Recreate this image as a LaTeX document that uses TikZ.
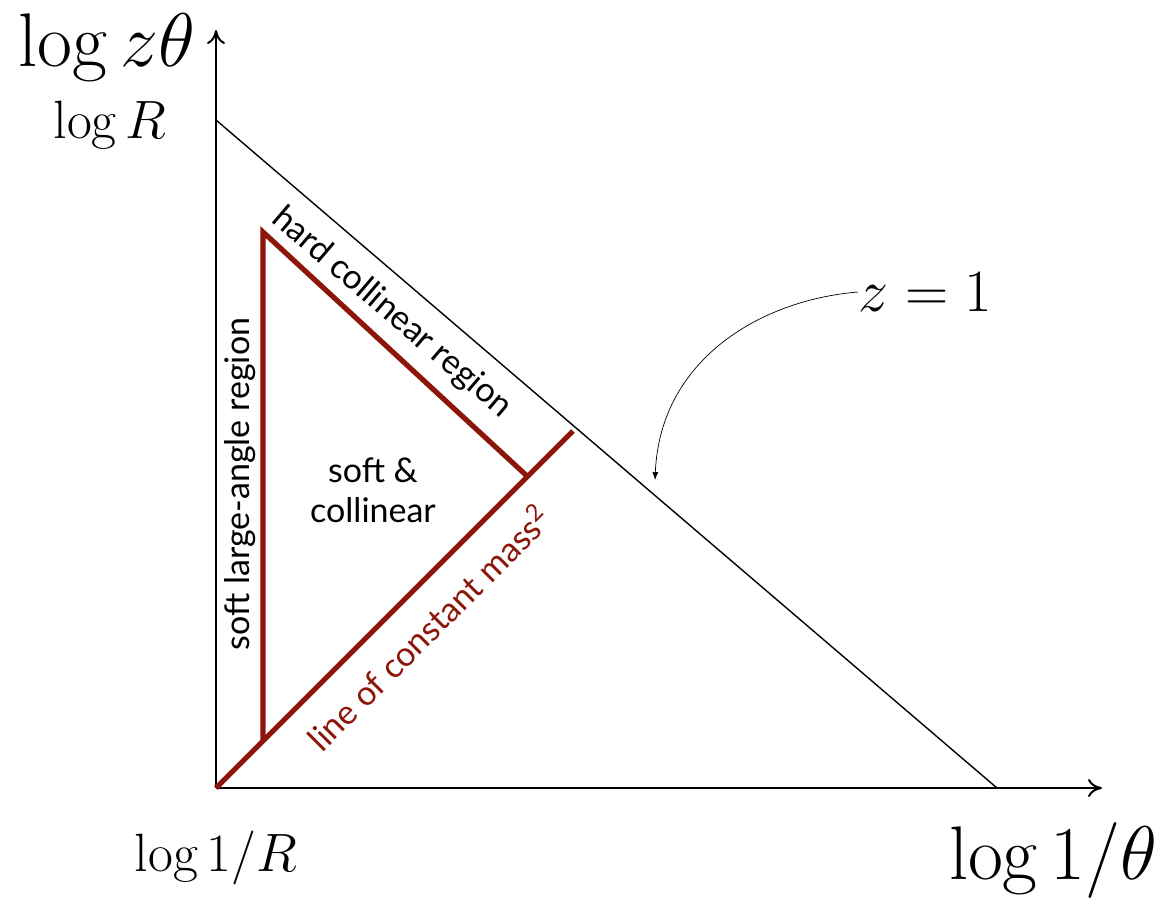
\documentclass[tikz,border=0pt]{standalone}
\usepackage{fix-cm}
\usepackage{amsmath,amssymb}
\usepackage{fontspec}
\newfontfamily\regionfont{Lato}
\usetikzlibrary{arrows.meta,positioning}
\definecolor{massred}{RGB}{140,22,10}

\begin{document}
\begin{tikzpicture}[
  x=0.5pt, y=-0.5pt,
  axis/.style={line width=1pt,-{To[length=7pt,width=9pt]}},
  edge/.style={line width=0.7pt},
  region/.style={massred,line width=2.6pt},
  label/.style={font=\regionfont\fontsize{17}{20}\selectfont,inner sep=0pt},
  bigmath/.style={font=\fontsize{38}{42}\selectfont,inner sep=0pt},
  smallmath/.style={font=\fontsize{27}{30}\selectfont,inner sep=0pt},
  pointer/.style={line width=0.35pt,-{Latex[length=4pt,width=3pt]}}
]
\useasboundingbox (0,0) rectangle (1160,918);
% axes
\coordinate (O) at (216,788);
\coordinate (ytop) at (216,30);
\coordinate (xend) at (1102,788);
\draw[axis] (O) -- (ytop);
\draw[axis] (O) -- (xend);
% z = 1 boundary
\coordinate (zR) at (216,120);
\coordinate (zend) at (997,788);
\draw[edge] (zR) -- (zend);
% regions
\coordinate (top) at (263,232);
\coordinate (foot) at (263,741);
\coordinate (knee) at (527,476);
\coordinate (mend) at (573,431);
\draw[region,line cap=butt] (foot) -- (top) -- (knee);
\draw[region] (O) -- (mend);
% labels
\node[bigmath] (ylab) at (107,48) {$\log z\theta$};
\node[smallmath] (Rlab) at (110,125) {$\log R$};
\node[smallmath] (Rinv) at (216,858) {$\log 1/R$};
\node[bigmath] (xlab) at (1053,860) {$\log 1/\theta$};
\node[font=\fontsize{30}{32}\selectfont,inner sep=0pt,anchor=west] (z1) at (858,292) {$z=1$};
\coordinate (ztip) at (655,480);
\draw[pointer] (z1.west) .. controls (760,300) and (660,360) .. (ztip);
\node[label,rotate=-40.5] (hard) at (392,313) {hard collinear region};
\node[label,rotate=90] (wide) at (240,484) {soft large-angle region};
\node[label,align=center] (soft) at (373,490) {soft \&\\collinear};
\node[label,text=massred,rotate=45] (mass) at (428,627) {line of constant mass\textsuperscript{2}};
\end{tikzpicture}
\end{document}
